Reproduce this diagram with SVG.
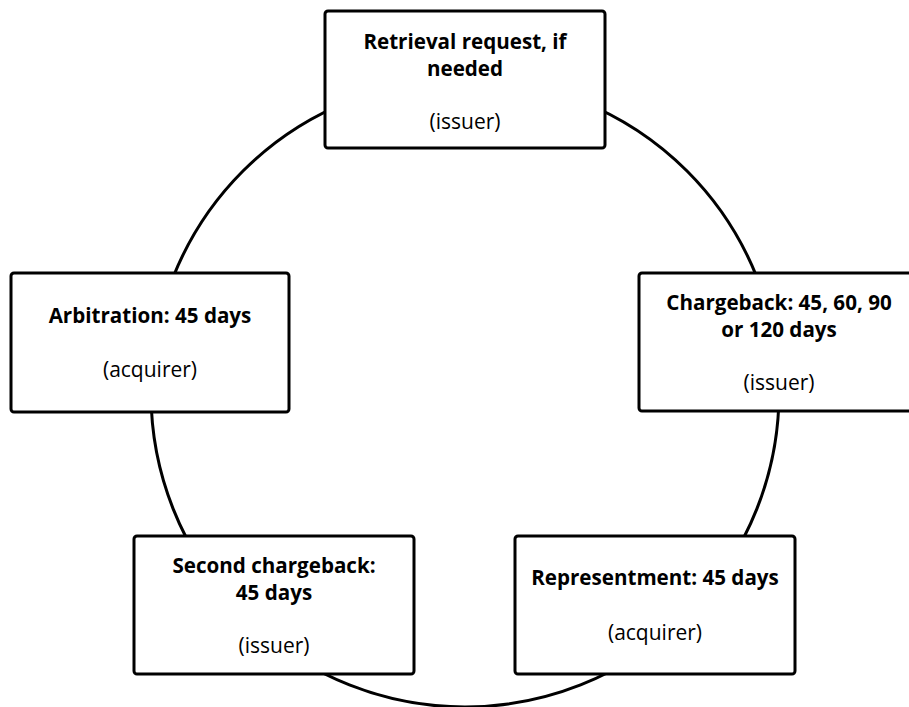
<svg xmlns="http://www.w3.org/2000/svg" width="909" height="707" viewBox="0 0 909 707">
<style>
.box{fill:#fff;stroke:#000;stroke-width:3}
.t{font-family:"Open Sans","Liberation Sans",sans-serif;font-size:21px;text-anchor:middle;fill:#000}
.b{font-weight:700;font-size:20.6px}
.conn{fill:none;stroke:#000;stroke-width:3}
</style>
<rect width="909" height="707" fill="#fff"/>
<g id="connectors">
<circle class="conn" cx="465" cy="393" r="314"/>
</g>
<g id="retrieval">
<rect class="box" x="325" y="11" width="280" height="137" rx="3"/>
<text class="t b" x="465" y="49">Retrieval request, if</text>
<text class="t b" x="465" y="76">needed</text>
<text class="t" x="465" y="129">(issuer)</text>
</g>
<g id="chargeback">
<rect class="box" x="639" y="273" width="280" height="138" rx="3"/>
<text class="t b" x="779" y="310">Chargeback: 45, 60, 90</text>
<text class="t b" x="779" y="337">or 120 days</text>
<text class="t" x="779" y="390">(issuer)</text>
</g>
<g id="representment">
<rect class="box" x="515" y="536" width="280" height="138" rx="3"/>
<text class="t b" x="655" y="585">Representment: 45 days</text>
<text class="t" x="655" y="640">(acquirer)</text>
</g>
<g id="second-chargeback">
<rect class="box" x="134" y="536" width="280" height="138" rx="3"/>
<text class="t b" x="274" y="573">Second chargeback:</text>
<text class="t b" x="274" y="600">45 days</text>
<text class="t" x="274" y="653">(issuer)</text>
</g>
<g id="arbitration">
<rect class="box" x="11" y="273" width="278" height="139" rx="3"/>
<text class="t b" x="150" y="323">Arbitration: 45 days</text>
<text class="t" x="150" y="377">(acquirer)</text>
</g>
</svg>
